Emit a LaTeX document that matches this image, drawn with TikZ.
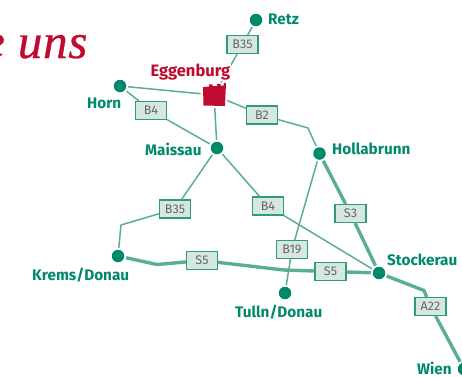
\documentclass[tikz,border=0pt]{standalone}
\usepackage{fontspec}
\setsansfont{Fira Sans}
\newfontfamily\titlefont[FakeBold=0.6,LetterSpace=1.5]{Liberation Serif}
\definecolor{dotgreen}{HTML}{00896A}
\definecolor{linegreen}{HTML}{5AAE96}
\definecolor{boxfill}{HTML}{D6E6E0}
\definecolor{boxline}{HTML}{2F9B7E}
\definecolor{crimson}{HTML}{C00A30}
\tikzset{
  dot/.style={circle,fill=dotgreen,inner sep=0pt,minimum size=12.5pt,outer sep=2pt},
  roadbox/.style={rectangle,draw=boxline,fill=boxfill,line width=1.1pt,minimum width=31pt,minimum height=18pt,inner sep=0pt,text=black!60,font=\sffamily\fontsize{12.5}{13}\selectfont},
  place/.style={text=dotgreen,inner sep=0pt,font=\sffamily\bfseries\fontsize{15.3}{17}\selectfont},
  thinroad/.style={draw=linegreen,line width=1.5pt,line join=round},
  thickroad/.style={draw=linegreen,line width=3.4pt,line join=round},
}
\begin{document}
\begin{tikzpicture}[x=1pt,y=-1pt]
\useasboundingbox (0,0) rectangle (462,376);
\clip (0,0) rectangle (462,376);
\node[anchor=base west,inner sep=0pt,text=crimson,font=\titlefont\itshape\fontsize{49}{52}\selectfont] (title) at (-17,58) {e uns};
% nodes
\node[dot] (retz) at (256,20) {};
\node[dot] (horn) at (120,86) {};
\node[dot] (maissau) at (217,148) {};
\node[dot] (hollabrunn) at (319.5,153.5) {};
\node[dot] (krems) at (118,256) {};
\node[dot] (tulln) at (285,293) {};
\node[dot] (stockerau) at (379,273) {};
\node[dot] (wien) at (464,369) {};
\node[rectangle,minimum width=23pt,minimum height=22pt,inner sep=0pt,outer sep=2pt,rotate=-3] (egg) at (214,95) {};
\fill[crimson] (203,87) -- (209,86.5) -- (209,84.5) -- (212.5,84.3) -- (212.5,86.2) -- (217,86) -- (217,84) -- (220.5,83.8) -- (220.5,85.7) -- (223.5,85.5) -- (223.5,83.3) -- (226,83) -- (225,106) -- (203.5,105.5) -- cycle;
\node[roadbox] (b35a) at (242.5,44.5) {B35};
\node[roadbox] (b4a) at (151,110.5) {B4};
\node[roadbox] (b2) at (262,115) {B2};
\node[roadbox] (b35b) at (175,209) {B35};
\node[roadbox] (b4b) at (268,206) {B4};
\node[roadbox] (b19) at (292,249.5) {B19};
\node[roadbox] (s3) at (350.5,213.5) {S3};
\node[roadbox] (s5a) at (202,260.5) {S5};
\node[roadbox] (s5b) at (330.5,271.5) {S5};
\node[roadbox] (a22) at (430.5,306.5) {A22};
\coordinate (kneeA) at (308,128);
\coordinate (kneeB) at (121,225);
\coordinate (kneeC) at (157,264.5);
\coordinate (kneeD) at (284,270);
\coordinate (kneeE) at (424,290.5);
% connectors
\draw[thinroad] (retz) -- (b35a) -- (egg);
\draw[thinroad] (horn) -- (egg);
\draw[thinroad] (horn) -- (b4a) -- (maissau);
\draw[thinroad] (egg) -- (maissau);
\draw[thinroad] (egg) -- (b2);
\draw[thinroad] (b2) -- (kneeA) -- (hollabrunn);
\draw[thinroad] (maissau) -- (b35b);
\draw[thinroad] (b35b) -- (kneeB) -- (krems);
\draw[thinroad] (maissau) -- (b4b) -- (stockerau);
\draw[thinroad] (hollabrunn) -- (b19) -- (tulln);
\draw[thickroad] (hollabrunn) -- (s3) -- (stockerau);
\draw[thickroad] (krems) -- (kneeC) -- (s5a);
\draw[thickroad] (s5a) -- (kneeD) -- (s5b) -- (stockerau);
\draw[thickroad] (stockerau) -- (kneeE) -- (a22) -- (wien);
% labels
\node[place,anchor=base west] (lretz) at (268,24) {Retz};
\node[place,anchor=base west,text=crimson,fill=white,inner sep=1pt,font=\sffamily\bfseries\fontsize{16.5}{18}\selectfont] (legg) at (149.5,76) {Eggenburg};
\node[place,anchor=base west] (lhorn) at (87,108) {Horn};
\node[place,anchor=base west] (lmaissau) at (145,155) {Maissau};
\node[place,anchor=base west] (lholl) at (332,154) {Hollabrunn};
\node[place,anchor=base west] (lstock) at (387,265) {Stockerau};
\node[place,anchor=base west] (lkrems) at (32,280) {Krems/Donau};
\node[place,anchor=base west] (ltulln) at (235,317) {Tulln/Donau};
\node[place,anchor=base west] (lwien) at (417,374) {Wien};
\end{tikzpicture}
\end{document}
